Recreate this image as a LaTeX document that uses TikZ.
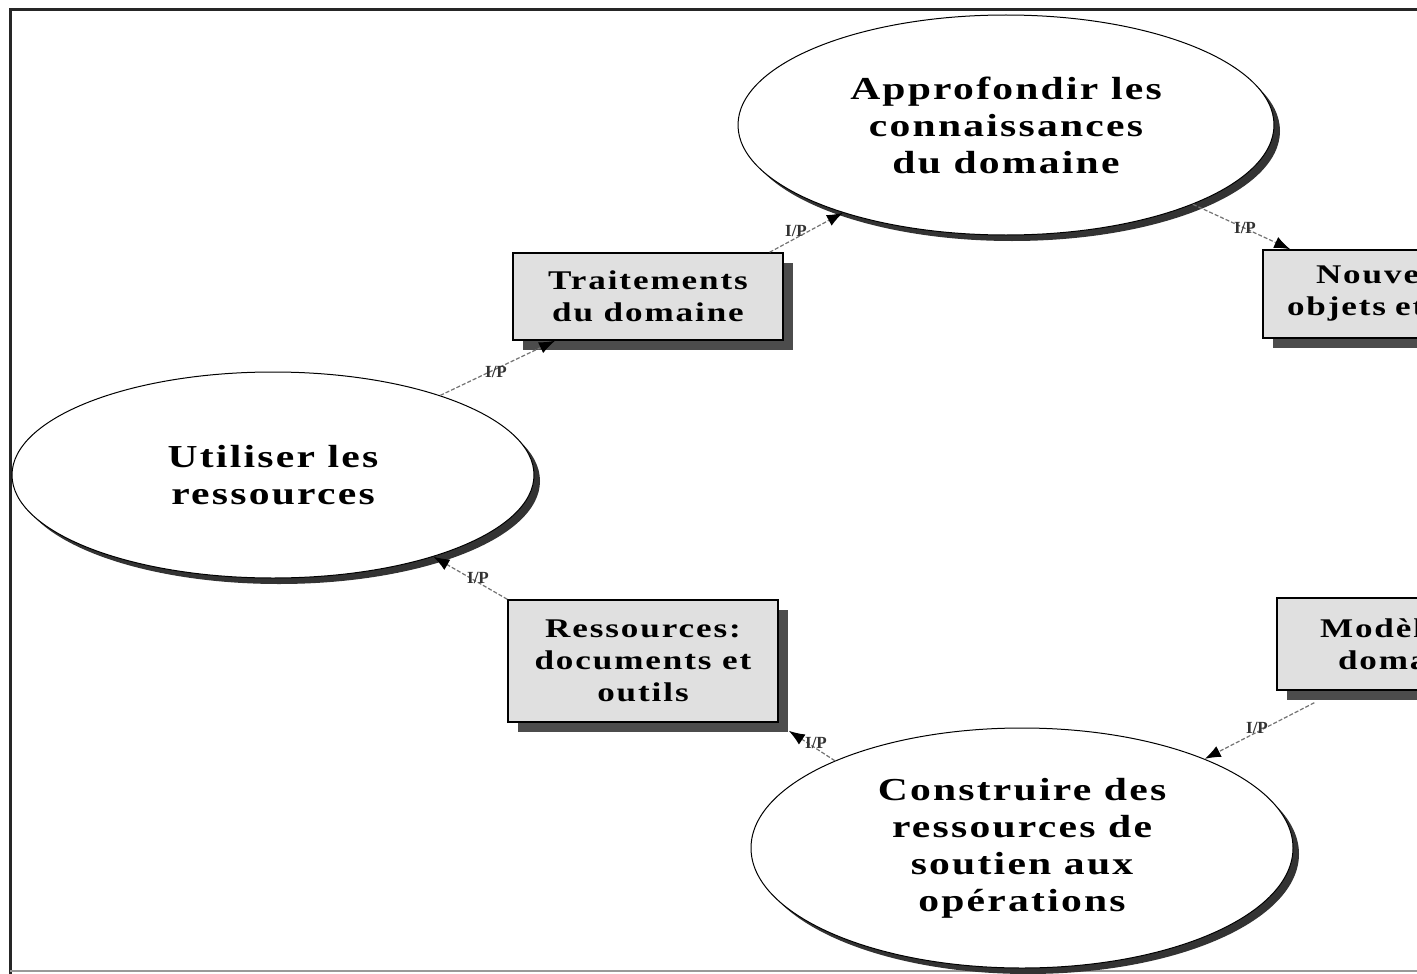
\documentclass[tikz,border=0pt]{standalone}
\usepackage{fontspec}
\setmainfont{Liberation Serif}
\newfontfamily\wideserif[FakeStretch=1.3,LetterSpace=7]{Liberation Serif}
\usetikzlibrary{shapes.geometric,arrows.meta,shadows}
\begin{document}
\begin{tikzpicture}[x=1pt,y=-1pt,
  ell/.style={ellipse,draw=black,line width=1pt,fill=white,inner sep=0pt,align=center,
    font=\wideserif\bfseries\fontsize{32}{37}\selectfont,
    drop shadow={shadow xshift=6pt,shadow yshift=-6pt,fill=black!80,opacity=1}},
  boxn/.style={rectangle,draw=black,line width=1.5pt,fill=black!12,inner sep=0pt,align=center,
    font=\wideserif\bfseries\fontsize{27}{32}\selectfont,
    drop shadow={shadow xshift=10pt,shadow yshift=-10pt,fill=black!70,opacity=1}},
  conn/.style={draw=black!55,line width=1.2pt,dash pattern=on 4pt off 2pt,
    -{Latex[length=16pt,width=12pt,color=black]}},
  lab/.style={font=\bfseries\fontsize{17}{17}\selectfont,inner sep=1pt,text=black!80}]
\useasboundingbox (0,0) rectangle (1417,974);
\clip (0,0) rectangle (1417,974);
\fill[white] (0,0) rectangle (1417,974);
% frame
\draw[black!85,line width=3pt] (10,974) -- (10,10) -- (1417,10);
\draw[black!40,line width=2pt] (10,971) -- (1417,971);

% ellipses
\node[ell,minimum width=536pt,minimum height=220pt] (appro) at (1006,125)
  {Approfondir les\\connaissances\\du domaine};
\node[ell,minimum width=522pt,minimum height=206pt] (util) at (273,475)
  {Utiliser les\\ressources};
\node[ell,minimum width=542pt,minimum height=240pt] (constr) at (1022,848)
  {Construire des\\ressources de\\soutien aux\\opérations};

% boxes
\node[boxn,minimum width=270pt,minimum height=87pt] (trait) at (648,296.5)
  {Traitements\\du domaine};
\node[boxn,minimum width=270pt,minimum height=122pt] (ress) at (643,661)
  {Ressources:\\documents et\\outils};
\node[boxn,minimum width=270pt,minimum height=88pt,text width=250pt,align=left] (nouv) at (1398,294)
  {\hspace*{43pt}Nouveaux\\\hspace*{14pt}objets et};
\node[boxn,minimum width=276pt,minimum height=92pt,text width=256pt,align=left] (model) at (1415,644)
  {\hspace*{33pt}Modèle du\\\hspace*{51pt}domaine};

% connectors
\draw[conn] (util) -- (trait);
\draw[conn] (trait.20) -- (appro);
\draw[conn] (appro.-23) -- ([xshift=28pt]nouv.north west);
\draw[conn] ([xshift=38pt,yshift=-12pt]model.south west) -- (constr.26);
\draw[conn] (constr.155) -- ([xshift=10pt,yshift=-8pt]ress.south east);
\draw[conn] (ress.north west) -- (util.-27);

% labels
\node[lab] (l1) at (496,372) {I/P};
\node[lab] (l2) at (796,231) {I/P};
\node[lab] (l3) at (1245,228) {I/P};
\node[lab] (l4) at (1257,728) {I/P};
\node[lab] (l5) at (816,743) {I/P};
\node[lab] (l6) at (478,578) {I/P};
\end{tikzpicture}
\end{document}
